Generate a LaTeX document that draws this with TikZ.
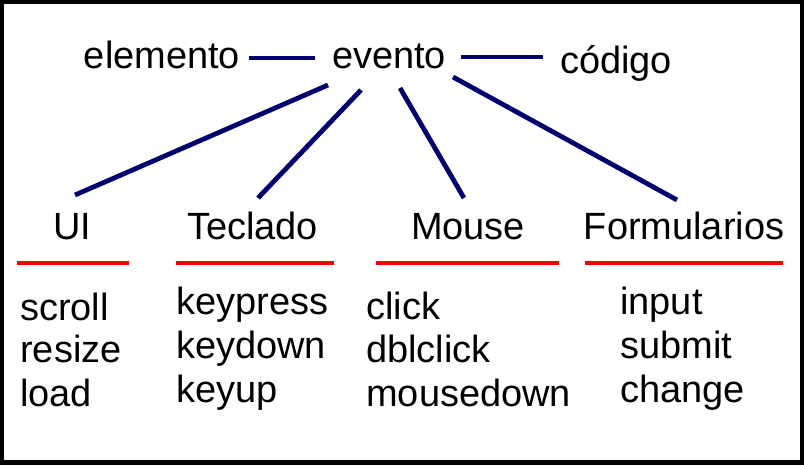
\documentclass[tikz,border=0pt]{standalone}
\usepackage{fontspec}
\setmainfont{Liberation Sans}
\definecolor{navy}{RGB}{0,0,110}
\definecolor{redline}{RGB}{255,0,0}
\tikzset{
    word/.style={inner sep=0pt, font=\fontsize{27}{31}\selectfont}, % all labels
    item/.style={word, anchor=base west}, % event names under a category
    link/.style={draw=navy, line width=3.4pt}, % dark blue connectors
    catline/.style={draw=redline, line width=2.9pt}, % red rule under a category
}

\begin{document}
\begin{tikzpicture}
  \useasboundingbox (0,0) rectangle (20.1,-11.625);
  \draw[line width=3pt] (0.055,-0.055) rectangle (20.04,-11.56);

  \node[word, anchor=base] (elemento) at (4.05,-1.7) {elemento};
  \node[word, anchor=base] (evento) at (9.725,-1.7) {evento};
  \node[word, anchor=base] (codigo) at (15.4,-1.825) {código};
  \draw[link, shorten <=0.225cm, shorten >=0.425cm]
    ([yshift=0.25cm]elemento.base east) -- ([yshift=0.25cm]evento.base west);
  \draw[link, shorten <=0.375cm, shorten >=0.425cm]
    ([yshift=0.275cm]evento.base east) -- ([yshift=0.4cm]codigo.base west);

  \node[word, anchor=base] (ui) at (1.8,-5.975) {UI};
  \node[word, anchor=base] (teclado) at (6.3125,-5.975) {Teclado};
  \node[word, anchor=base] (mouse) at (11.7,-5.975) {Mouse};
  \node[word, anchor=base] (formularios) at (17.1,-5.975) {Formularios};
  \draw[link] ([xshift=-1.525cm, yshift=-0.425cm]evento.base) -- ([xshift=0.075cm, yshift=1.1cm]ui.base);
  \draw[link] ([xshift=-0.7cm, yshift=-0.55cm]evento.base) -- ([xshift=0.1375cm, yshift=1.025cm]teclado.base);
  \draw[link] ([xshift=0.275cm, yshift=-0.5cm]evento.base) -- ([xshift=-0.1cm, yshift=1.025cm]mouse.base);
  \draw[link] ([xshift=1.6cm, yshift=-0.225cm]evento.base) -- ([xshift=-0.175cm, yshift=0.975cm]formularios.base);

  \draw[catline] (0.425,-6.575) -- (3.225,-6.575);
  \draw[catline] (4.4,-6.575) -- (8.35,-6.575);
  \draw[catline] (9.4,-6.575) -- (13.975,-6.575);
  \draw[catline] (14.625,-6.575) -- (19.575,-6.575);

  \node[item] (scroll) at (0.5,-8.0) {scroll};
  \node[item] (resize) at (0.5,-9.07) {resize};
  \node[item] (load) at (0.5,-10.15) {load};

  \node[item] (keypress) at (4.4,-7.85) {keypress};
  \node[item] (keydown) at (4.4,-8.95) {keydown};
  \node[item] (keyup) at (4.4,-10.05) {keyup};

  \node[item] (click) at (9.15,-7.975) {click};
  \node[item] (dblclick) at (9.15,-9.07) {dblclick};
  \node[item] (mousedown) at (9.15,-10.15) {mousedown};

  \node[item] (input) at (15.5,-7.85) {input};
  \node[item] (submit) at (15.5,-8.95) {submit};
  \node[item] (change) at (15.5,-10.05) {change};
\end{tikzpicture}
\end{document}
